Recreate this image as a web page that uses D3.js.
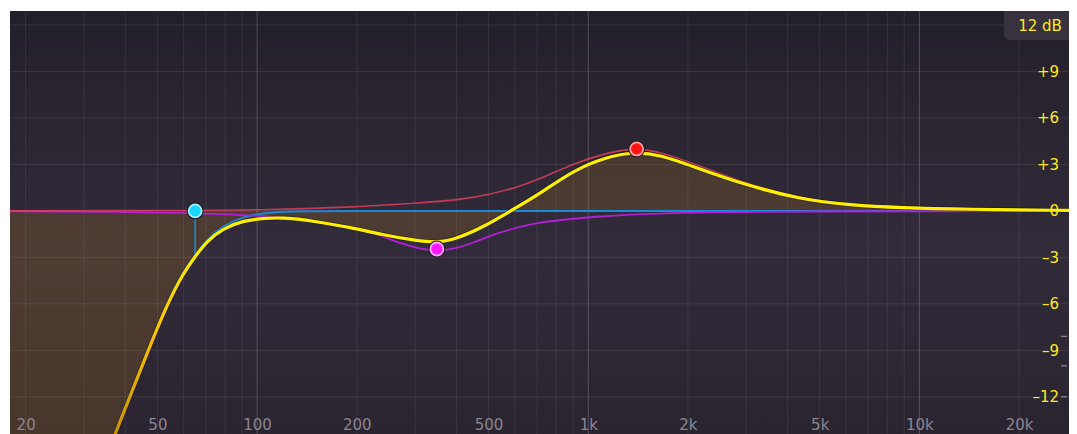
<!DOCTYPE html>
<html lang="en">
<head>
    <meta charset="UTF-8">
    <title>EQ curve</title>
    <script src="https://cdn.jsdelivr.net/npm/d3@7"></script>
    <style>
        html, body { margin: 0; padding: 0; background: #ffffff; }
        svg { display: block; }
        text { font-family: "DejaVu Sans", Verdana, sans-serif; }
    </style>
</head>
<body>
    <svg id="eq"></svg>
    <script>
        const width = 1077;
        const height = 434;
        const plot = {left: 10, top: 11, right: 1069, bottom: 434};

        // frequency axis
        const freqTicks = [20, 50, 100, 200, 500, 1000, 2000, 5000, 10000, 20000];
        const freqLabels = ["20", "50", "100", "200", "500", "1k", "2k", "5k", "10k", "20k"];
        const gridFreqs = [20, 30, 40, 50, 60, 70, 80, 90,
            200, 300, 400, 500, 600, 700, 800, 900,
            2000, 3000, 4000, 5000, 6000, 7000, 8000, 9000, 20000];
        const majorFreqs = [100, 1000, 10000];

        // gain axis
        const dbGrid = [12, 9, 6, 3, 0, -3, -6, -9, -12];
        const dbTicks = [9, 6, 3, 0, -3, -6, -9, -12];
        const dbLabels = ["+9", "+6", "+3", "0", "\u20133", "\u20136", "\u20139", "\u201312"];
        const analyzerTicks = [-8.1, -10.0, -12.0];
        const rangeLabel = "12 dB";

        // summed response (yellow)
        const sumFreq = [30, 37.2, 42.3, 47.6, 53.4, 59.9, 65, 70.5, 79.1, 90.9, 107, 120, 135, 151, 191, 241, 304, 349, 401, 483, 581, 716, 903, 1139, 1371, 1650, 2080, 2879, 4370, 6186, 8762, 13940, 28300];
        const sumDb = [-19.8, -14.4, -11.45, -8.66, -6.08, -4.0, -2.95, -1.95, -1.13, -0.62, -0.46, -0.45, -0.53, -0.7, -1.06, -1.56, -1.93, -2.05, -1.8, -1.03, -0.02, 1.12, 2.63, 3.49, 3.8, 3.62, 2.85, 1.77, 0.74, 0.37, 0.2, 0.1, 0.03];

        // band 1: low cut (cyan)
        const cutFreq = [30, 37.2, 42.3, 47.6, 53.4, 59.9, 65, 70.5, 79.1, 90.9, 107, 135, 200, 400, 28300];
        const cutDb = [-19.7, -14.3, -11.37, -8.58, -6.0, -3.9, -2.85, -1.82, -0.95, -0.36, -0.11, -0.02, 0, 0, 0];

        // band 2: bell cut (purple)
        const lowBellFreq = [17.9, 33.6, 65, 95, 135, 191, 235, 270, 311, 349, 396, 452, 516, 641, 731, 850, 1035, 1435, 2288, 4370, 28300];
        const lowBellDb = [-0.02, -0.05, -0.13, -0.27, -0.5, -1.03, -1.55, -2.1, -2.45, -2.6, -2.45, -2.05, -1.5, -0.95, -0.72, -0.56, -0.38, -0.2, -0.08, -0.04, 0];

        // band 3: bell boost (red)
        const highBellFreq = [17.9, 60, 100, 191, 304, 430, 500, 595, 716, 903, 1139, 1403, 1810, 2879, 4370, 6186, 8762, 13940, 28300];
        const highBellDb = [0, 0.02, 0.05, 0.23, 0.48, 0.78, 1.05, 1.45, 2.05, 3.06, 3.75, 4.12, 3.58, 1.85, 0.8, 0.4, 0.22, 0.1, 0.03];

        // band handles
        const nodeFreq = [65, 349, 1400];
        const nodeDb = [0, -2.46, 4.0];
        const nodeCore = ["#18d4ff", "#ff16ff", "#ff1414"];
        const nodeRing = ["#a4f0ff", "#ffa6ff", "#ff9c9c"];

        const x = d3.scaleLog().domain([17.94, 28300]).range([plot.left, plot.right]);
        const y = d3.scaleLinear().domain([-14.4, 12.9]).range([plot.bottom, plot.top]);

        const svg = d3.select("#eq")
            .attr("width", width)
            .attr("height", height);

        const defs = svg.append("defs");

        defs.append("clipPath").attr("id", "plot-clip")
            .append("rect")
            .attr("x", plot.left).attr("y", plot.top)
            .attr("width", plot.right - plot.left)
            .attr("height", plot.bottom - plot.top);

        const bg = defs.append("linearGradient").attr("id", "bg-grad")
            .attr("x1", 0).attr("y1", 0).attr("x2", 0).attr("y2", 1);
        bg.append("stop").attr("offset", "0%").attr("stop-color", "#231f29");
        bg.append("stop").attr("offset", "55%").attr("stop-color", "#322b3a");
        bg.append("stop").attr("offset", "100%").attr("stop-color", "#2a2430");

        const strokeGrad = defs.append("linearGradient").attr("id", "sum-stroke")
            .attr("gradientUnits", "userSpaceOnUse")
            .attr("x1", 0).attr("x2", 0)
            .attr("y1", y(-2)).attr("y2", y(-14.4));
        strokeGrad.append("stop").attr("offset", "0%").attr("stop-color", "#fff000");
        strokeGrad.append("stop").attr("offset", "45%").attr("stop-color", "#ffc400");
        strokeGrad.append("stop").attr("offset", "100%").attr("stop-color", "#c89400");

        svg.append("rect")
            .attr("x", plot.left).attr("y", plot.top)
            .attr("width", plot.right - plot.left)
            .attr("height", plot.bottom - plot.top)
            .attr("fill", "url(#bg-grad)");

        const chart = svg.append("g").attr("clip-path", "url(#plot-clip)");

        // grid
        chart.append("g")
            .selectAll("line")
            .data(dbGrid)
            .join("line")
            .attr("x1", plot.left).attr("x2", plot.right)
            .attr("y1", d => y(d)).attr("y2", d => y(d))
            .attr("stroke", "rgba(255,255,255,0.09)");

        chart.append("g")
            .selectAll("line")
            .data(gridFreqs)
            .join("line")
            .attr("x1", d => x(d)).attr("x2", d => x(d))
            .attr("y1", plot.top).attr("y2", plot.bottom)
            .attr("stroke", "rgba(255,255,255,0.075)");

        chart.append("g")
            .selectAll("line")
            .data(majorFreqs)
            .join("line")
            .attr("x1", d => x(d)).attr("x2", d => x(d))
            .attr("y1", plot.top).attr("y2", plot.bottom)
            .attr("stroke", "rgba(255,255,255,0.2)");

        const zip = (fs, ds) => fs.map((f, i) => ({f: f, db: ds[i]}));
        const curve = d3.curveBasis;

        const sumData = zip(sumFreq, sumDb);

        // fill between summed curve and 0 dB
        chart.append("path")
            .datum([{f: 17.94, db: sumDb[0] - 10}].concat(sumData))
            .attr("fill", "rgba(255,170,20,0.14)")
            .attr("d", d3.area()
                .curve(curve)
                .x(d => x(d.f))
                .y0(y(0))
                .y1(d => y(d.db)));

        const line = d3.line()
            .curve(curve)
            .x(d => x(d.f))
            .y(d => y(d.db));

        chart.append("path")
            .datum(zip(cutFreq, cutDb))
            .attr("fill", "none")
            .attr("stroke", "#1b8ad6")
            .attr("stroke-width", 2)
            .attr("d", line);

        chart.append("path")
            .datum(zip(lowBellFreq, lowBellDb))
            .attr("fill", "none")
            .attr("stroke", "#b41ed6")
            .attr("stroke-width", 1.8)
            .attr("d", line);

        chart.append("path")
            .datum(zip(highBellFreq, highBellDb))
            .attr("fill", "none")
            .attr("stroke", "#e8405e")
            .attr("stroke-opacity", 0.8)
            .attr("stroke-width", 1.6)
            .attr("d", line);

        // drop line from the low cut handle to its -3 dB point
        chart.append("line")
            .attr("x1", x(nodeFreq[0])).attr("x2", x(nodeFreq[0]))
            .attr("y1", y(nodeDb[0])).attr("y2", y(-3))
            .attr("stroke", "#1b8ad6")
            .attr("stroke-width", 1.6);

        chart.append("path")
            .datum(sumData)
            .attr("fill", "none")
            .attr("stroke", "rgba(0,0,0,0.25)")
            .attr("stroke-width", 5)
            .attr("d", line);

        chart.append("path")
            .datum(sumData)
            .attr("fill", "none")
            .attr("stroke", "url(#sum-stroke)")
            .attr("stroke-width", 3.2)
            .attr("d", line);

        // handles
        const nodes = chart.append("g")
            .selectAll("g")
            .data(nodeFreq.map((f, i) => ({f: f, db: nodeDb[i], core: nodeCore[i], ring: nodeRing[i]})))
            .join("g")
            .attr("transform", d => `translate(${x(d.f)},${y(d.db)})`);
        nodes.append("circle").attr("r", 8.5).attr("fill", "#1c1820");
        nodes.append("circle").attr("r", 7.4).attr("fill", d => d.ring);
        nodes.append("circle").attr("r", 5.6).attr("fill", d => d.core);

        // frequency labels
        const xAxis = svg.append("g")
            .attr("transform", `translate(0,${plot.bottom - 15})`)
            .call(d3.axisBottom(x)
                .tickValues(freqTicks)
                .tickFormat((d, i) => freqLabels[i])
                .tickSize(0)
                .tickPadding(0));
        xAxis.select(".domain").remove();
        xAxis.selectAll("text")
            .attr("fill", "#8b8592")
            .style("font-size", "15px")
            .style("font-family", "'DejaVu Sans', sans-serif");

        // gain labels
        const yAxis = svg.append("g")
            .attr("transform", `translate(${plot.right - 10},0)`)
            .call(d3.axisLeft(y)
                .tickValues(dbTicks)
                .tickFormat((d, i) => dbLabels[i])
                .tickSize(0)
                .tickPadding(0));
        yAxis.select(".domain").remove();
        yAxis.selectAll("text")
            .attr("fill", "#ffe81c")
            .style("font-size", "15px")
            .style("font-family", "'DejaVu Sans', sans-serif");

        svg.append("g")
            .selectAll("line")
            .data(analyzerTicks)
            .join("line")
            .attr("x1", plot.right - 8).attr("x2", plot.right - 2)
            .attr("y1", d => y(d)).attr("y2", d => y(d))
            .attr("stroke", "#8a8590")
            .attr("stroke-width", 1.3);

        // range box
        const box = svg.append("g").attr("clip-path", "url(#plot-clip)");
        box.append("rect")
            .attr("x", plot.right - 65).attr("y", plot.top - 8)
            .attr("width", 72).attr("height", 37)
            .attr("rx", 6)
            .attr("fill", "#38323f");
        box.append("text")
            .attr("x", plot.right - 29).attr("y", 31)
            .attr("text-anchor", "middle")
            .attr("fill", "#ffe81c")
            .style("font-size", "15px")
            .text(rangeLabel);
    </script>
</body>
</html>
